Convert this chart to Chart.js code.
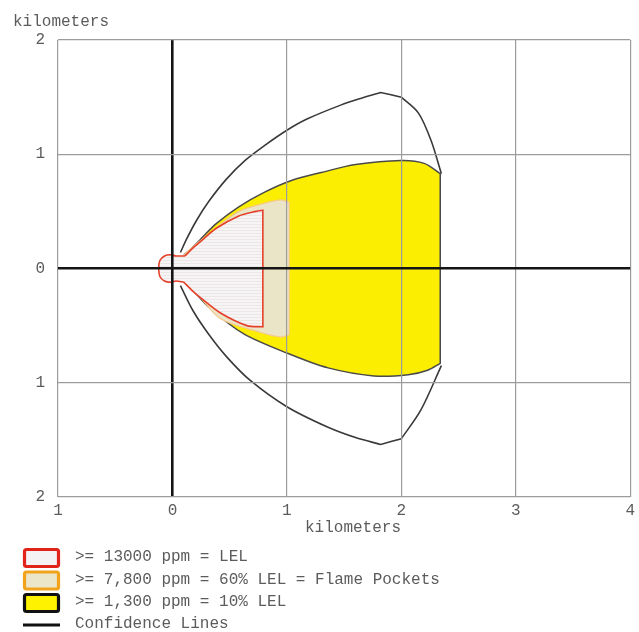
<!DOCTYPE html>
<html>
<head>
<meta charset="utf-8">
<script src="https://cdn.jsdelivr.net/npm/chart.js@4.4.0/dist/chart.umd.min.js"></script>
<style>
  body { margin: 0; background: #fff; }
</style>
</head>
<body>
<canvas id="myChart" width="639" height="632"></canvas>
<script>
// tick labels (the plot shows distances without sign)
const xTickLabels = ['1', '0', '1', '2', '3', '4']
const yTickLabels = ['2', '1', '0', '1', '2']
const axisTitle = 'kilometers'

// >= 13000 ppm = LEL  (red outline); corner points are listed twice to keep them sharp
const lelX = [0.11, 0.11, 0.18, 0.25, 0.38, 0.58, 0.73, 0.79, 0.79, 0.79, 0.79, 0.65, 0.42, 0.25, 0.18, 0.10, 0.10, 0.03, -0.02, -0.07, -0.11, -0.12, -0.11, -0.07, -0.02, 0.03, 0.11]
const lelY = [0.11, 0.11, 0.18, 0.24, 0.35, 0.46, 0.50, 0.51, 0.51, -0.51, -0.51, -0.50, -0.39, -0.26, -0.20, -0.12, -0.12, -0.11, -0.12, -0.11, -0.07, 0.00, 0.07, 0.11, 0.12, 0.11, 0.11]

// >= 7,800 ppm = 60% LEL (orange outline)
const flameX = [0.10, 0.24, 0.40, 0.58, 0.80, 0.95, 1.02, 1.02, 1.02, 1.02, 0.95, 0.77, 0.42, 0.24, 0.10]
const flameY = [0.12, 0.24, 0.37, 0.50, 0.57, 0.60, 0.58, 0.58, -0.58, -0.58, -0.60, -0.56, -0.44, -0.25, -0.12]

// >= 1,300 ppm = 10% LEL (yellow)
const tenX = [0.10, 0.15, 0.24, 0.38, 0.58, 0.81, 1.04, 1.30, 1.60, 2.00, 2.20, 2.34, 2.34, 2.34, 2.34, 2.23, 2.06, 1.76, 1.36, 1.00, 0.62, 0.33, 0.15, 0.10]
const tenY = [0.12, 0.16, 0.25, 0.39, 0.54, 0.67, 0.77, 0.84, 0.91, 0.945, 0.92, 0.83, 0.83, -0.83, -0.83, -0.89, -0.93, -0.94, -0.87, -0.74, -0.57, -0.35, -0.16, -0.12]

// confidence lines
const confUpX = [0.07, 0.12, 0.21, 0.32, 0.47, 0.64, 0.81, 1.00, 1.18, 1.47, 1.65, 1.82, 1.82, 2.00, 2.00, 2.15, 2.26, 2.35]
const confUpY = [0.14, 0.25, 0.42, 0.59, 0.78, 0.95, 1.08, 1.21, 1.31, 1.43, 1.49, 1.54, 1.54, 1.50, 1.50, 1.36, 1.12, 0.83]
const confLoX = [0.07, 0.18, 0.32, 0.48, 0.68, 1.00, 1.36, 1.60, 1.82, 1.82, 2.00, 2.00, 2.17, 2.35]
const confLoY = [-0.15, -0.37, -0.58, -0.78, -0.98, -1.21, -1.39, -1.48, -1.54, -1.54, -1.49, -1.49, -1.24, -0.85]

const legendLabels = [
  '>= 13000 ppm = LEL',
  '>= 7,800 ppm = 60% LEL = Flame Pockets',
  '>= 1,300 ppm = 10% LEL',
  'Confidence Lines'
]

const FONT = '16px "Liberation Mono", "DejaVu Sans Mono", monospace'
const TEXT = '#5c5c5c'

const pts = (xs, ys) => xs.map((x, i) => ({ x: x, y: ys[i] }))

// faint horizontal hatch used inside the LEL zone
const hatch = (() => {
  const c = document.createElement('canvas')
  c.width = 4; c.height = 3
  const g = c.getContext('2d')
  g.fillStyle = '#f6f4f4'
  g.fillRect(0, 0, 4, 3)
  g.fillStyle = '#ebe7e7'
  g.fillRect(0, 2, 4, 1)
  return g.createPattern(c, 'repeat')
})()

const shape = (data, fillCol, lineCol, w) => ({
  data: data,
  showLine: true,
  fill: 'shape',
  backgroundColor: fillCol,
  borderColor: lineCol,
  borderWidth: w,
  pointRadius: 0,
  tension: 0.3
})

const curve = (data) => ({
  data: data,
  showLine: true,
  fill: false,
  borderColor: '#3a3a3a',
  borderWidth: 1.6,
  pointRadius: 0,
  tension: 0.3
})

const overlay = {
  id: 'overlay',
  afterDraw(chart) {
    const ctx = chart.ctx
    ctx.save()
    ctx.font = FONT
    ctx.fillStyle = TEXT
    ctx.textBaseline = 'middle'
    ctx.textAlign = 'left'
    ctx.fillText(axisTitle, 13, 22)
    ctx.textAlign = 'center'
    ctx.fillText(axisTitle, 353, 528)

    const boxes = [
      { fill: '#f4f2f2', stroke: '#e2231a' },
      { fill: '#ebe6c9', stroke: '#f2a31b' },
      { fill: '#fff200', stroke: '#111111' }
    ]
    const rows = [558, 580.5, 603, 625]
    ctx.textAlign = 'left'
    boxes.forEach((b, i) => {
      ctx.fillStyle = b.fill
      ctx.strokeStyle = b.stroke
      ctx.lineWidth = 3.2
      ctx.beginPath()
      ctx.roundRect(24.5, rows[i] - 8.5, 34, 17, 2)
      ctx.fill()
      ctx.stroke()
    })
    ctx.strokeStyle = '#111'
    ctx.lineWidth = 3
    ctx.beginPath()
    ctx.moveTo(23, rows[3])
    ctx.lineTo(60, rows[3])
    ctx.stroke()

    ctx.fillStyle = TEXT
    legendLabels.forEach((t, i) => ctx.fillText(t, 75, rows[i] - 1))
    ctx.restore()
  }
}

const gridColor = (c) => c.tick && c.tick.value === 0 ? '#151515' : '#9c9c9c'
const gridWidth = (c) => c.tick && c.tick.value === 0 ? 2.6 : 1.2

new Chart(document.getElementById('myChart'), {
  type: 'scatter',
  data: {
    datasets: [
      shape(pts(lelX, lelY), hatch, '#e5402a', 1.6),
      shape(pts(flameX, flameY), '#ebe5c8', '#f5c98a', 1.2),
      shape(pts(tenX, tenY), '#fbee00', '#4a4a4a', 1.5),
      curve(pts(confUpX, confUpY)),
      curve(pts(confLoX, confLoY))
    ]
  },
  options: {
    responsive: false,
    animation: false,
    layout: { padding: { top: 40, right: 5, left: 0, bottom: 0 } },
    plugins: {
      legend: { display: false },
      tooltip: { enabled: false }
    },
    scales: {
      x: {
        type: 'linear',
        min: -1,
        max: 4,
        afterFit: (s) => { s.height = 135 },
        border: { display: false },
        grid: { color: gridColor, lineWidth: gridWidth, drawTicks: false, z: 1 },
        ticks: {
          stepSize: 1,
          padding: 4,
          color: TEXT,
          font: { family: '"Liberation Mono", monospace', size: 16 },
          callback: (v, i) => xTickLabels[i]
        }
      },
      y: {
        type: 'linear',
        min: -2,
        max: 2,
        afterFit: (s) => { s.width = 58 },
        border: { display: false },
        grid: { color: gridColor, lineWidth: gridWidth, drawTicks: false, z: 1 },
        ticks: {
          stepSize: 1,
          padding: 13,
          color: TEXT,
          font: { family: '"Liberation Mono", monospace', size: 16 },
          callback: (v, i) => yTickLabels[i]
        }
      }
    }
  },
  plugins: [overlay]
})
</script>
</body>
</html>
